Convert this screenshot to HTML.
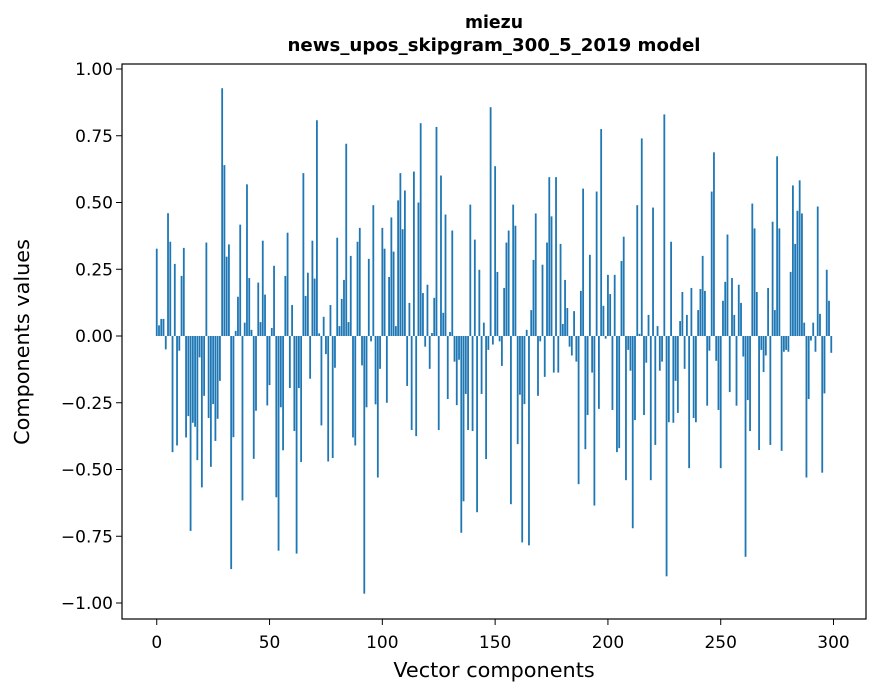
<!DOCTYPE html>
<html><head><meta charset="utf-8"><style>
html,body{margin:0;padding:0;background:#fff;width:880px;height:696px;overflow:hidden}
svg text{font-family:"DejaVu Sans","Liberation Sans",sans-serif;fill:#000}
</style></head><body>
<svg id="chart" width="880" height="696" xmlns="http://www.w3.org/2000/svg">
<rect width="880" height="696" fill="#fff"/>
<text x="494" y="28" text-anchor="middle" style="font-weight:bold;font-size:17.5px" textLength="58" lengthAdjust="spacingAndGlyphs">miezu</text>
<text x="494" y="51" text-anchor="middle" style="font-weight:bold;font-size:17.5px" textLength="413" lengthAdjust="spacingAndGlyphs">news_upos_skipgram_300_5_2019 model</text>
<g id="bars"></g>
<g id="yticks"></g>
<g id="xticks"></g>
<rect x="122" y="64" width="744" height="555" fill="none" stroke="#000" stroke-width="1.2"/>
<text x="494" y="677" text-anchor="middle" font-size="20.8">Vector components</text>
<text transform="translate(29,342) rotate(-90)" text-anchor="middle" font-size="20.8">Components values</text>
</svg>
<script>
const values = [
0.327,0.04,0.064,0.064,-0.05,0.46,0.353,-0.435,0.27,-0.41,
-0.055,0.225,0.33,-0.38,-0.30,-0.73,-0.325,-0.34,-0.465,-0.08,
-0.567,-0.224,0.35,-0.307,-0.49,-0.255,-0.393,-0.31,-0.168,0.928,
0.64,0.297,0.343,-0.873,-0.379,0.019,0.147,0.417,-0.616,0.05,
0.568,0.217,0.023,-0.46,-0.28,0.2,0.052,0.357,0.155,-0.26,
-0.184,0.03,0.263,-0.604,-0.804,-0.267,-0.428,0.225,0.387,-0.195,
0.116,-0.356,-0.815,-0.195,-0.472,0.61,0.15,0.237,-0.16,0.357,
0.215,0.808,0.01,-0.335,0.072,-0.068,-0.47,0.116,-0.457,-0.119,
0.368,0.037,0.139,0.21,0.72,0.052,0.3,-0.38,-0.41,0.353,
0.405,-0.11,-0.965,-0.267,0.289,-0.02,0.49,-0.256,-0.53,-0.123,
0.405,0.327,-0.25,0.221,0.444,0.316,0.037,0.508,0.61,0.4,
0.545,-0.187,0.124,-0.352,0.616,-0.375,0.5,0.797,0.161,-0.04,
0.192,-0.123,0.011,0.143,0.783,-0.352,0.601,0.087,0.455,-0.236,
0.015,0.395,-0.096,-0.259,-0.089,-0.737,-0.619,-0.217,-0.352,0.492,
-0.356,0.361,-0.66,0.248,-0.217,0.05,-0.461,-0.052,0.857,-0.032,
0.636,0.24,-0.02,-0.112,0.18,0.35,0.395,-0.63,0.492,0.413,
-0.405,-0.22,-0.773,-0.255,0.023,-0.784,0.097,0.285,0.459,-0.224,
-0.02,0.267,-0.153,0.35,0.595,0.448,-0.137,0.595,-0.137,0.345,
0.045,0.21,0.105,-0.04,-0.073,0.093,-0.096,-0.555,0.169,0.552,
-0.424,-0.296,0.304,-0.137,-0.635,0.541,-0.273,0.775,0.113,-0.01,
0.229,0.157,-0.277,0.229,-0.435,-0.42,0.281,0.372,-0.54,-0.052,
-0.13,-0.72,-0.315,0.49,0.008,0.74,-0.296,-0.1,0.079,-0.54,
0.481,-0.408,0.037,-0.13,-0.096,0.83,-0.9,-0.323,0.353,-0.325,
-0.168,-0.288,0.056,0.165,-0.123,0.079,-0.495,0.18,-0.307,-0.323,
0.097,0.176,0.3,0.169,-0.261,-0.055,0.541,0.688,-0.093,-0.277,
-0.495,0.132,0.203,0.38,-0.21,0.217,0.079,-0.261,0.192,0.124,
-0.077,-0.827,-0.24,-0.356,0.496,0.403,0.165,-0.427,-0.052,-0.135,
-0.073,0.18,-0.408,0.428,0.097,0.673,0.403,-0.43,-0.059,-0.052,
-0.059,0.24,0.564,0.345,0.469,0.583,0.459,0.05,-0.53,-0.236,
-0.017,0.05,-0.059,0.485,0.083,-0.512,-0.215,0.248,0.132,-0.063
];
const yTicks = [-1.00,-0.75,-0.50,-0.25,0.00,0.25,0.50,0.75,1.00];
const xTicks = [0,50,100,150,200,250,300];

const NS = "http://www.w3.org/2000/svg";
const X0 = 122, X1 = 866, XMIN = -15.4, XMAX = 314.4;
const xScale = v => X0 + (v - XMIN) / (XMAX - XMIN) * (X1 - X0);
const yScale = v => 336 - 267 * v;
const barW = 0.8 * (X1 - X0) / (XMAX - XMIN);

const gb = document.getElementById('bars');
values.forEach((v, i) => {
  const r = document.createElementNS(NS, 'rect');
  
  
  const y0 = yScale(0), y1 = yScale(v);
  r.setAttribute('x', xScale(i) - barW / 2);
  r.setAttribute('width', barW);
  r.setAttribute('y', Math.min(y0, y1));
  r.setAttribute('height', Math.abs(y1 - y0));
  r.setAttribute('fill', '#1f77b4');
  gb.appendChild(r);
});

const fmt = v => (v < 0 ? '\u2212' : '') + Math.abs(v).toFixed(2);
const gy = document.getElementById('yticks');
yTicks.forEach(t => {
  const y = yScale(t);
  const l = document.createElementNS(NS, 'line');
  
  
  l.setAttribute('x1', 116); l.setAttribute('x2', 122);
  l.setAttribute('y1', y); l.setAttribute('y2', y);
  l.setAttribute('stroke', '#000');
  gy.appendChild(l);
  const tx = document.createElementNS(NS, 'text');
  
  
  tx.setAttribute('x', 113); tx.setAttribute('y', y + 6);
  tx.setAttribute('text-anchor', 'end');
  tx.setAttribute('font-size', '17');
  tx.textContent = fmt(t);
  gy.appendChild(tx);
});
const gx = document.getElementById('xticks');
xTicks.forEach(t => {
  const x = xScale(t);
  const l = document.createElementNS(NS, 'line');
  
  
  l.setAttribute('x1', x); l.setAttribute('x2', x);
  l.setAttribute('y1', 619); l.setAttribute('y2', 625);
  l.setAttribute('stroke', '#000');
  gx.appendChild(l);
  const tx = document.createElementNS(NS, 'text');
  
  
  tx.setAttribute('x', x); tx.setAttribute('y', 648);
  tx.setAttribute('text-anchor', 'middle');
  tx.setAttribute('font-size', '17');
  tx.textContent = String(t);
  gx.appendChild(tx);
});
</script>
</body></html>
